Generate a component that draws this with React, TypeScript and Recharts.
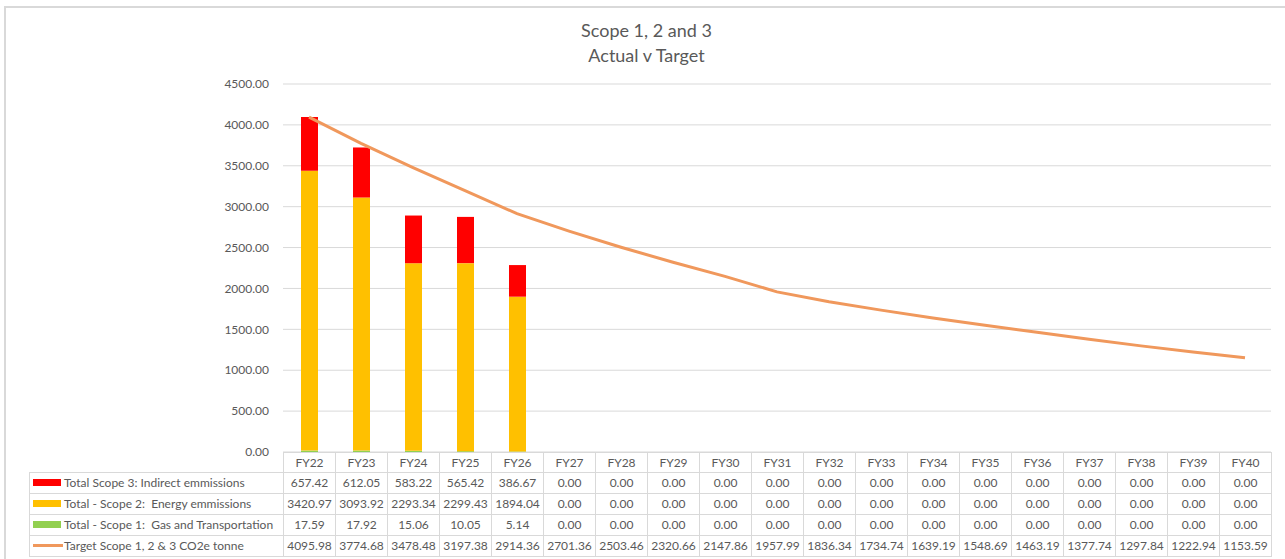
import React from "react";
import { ComposedChart, Bar, Line, XAxis, YAxis, CartesianGrid } from "recharts";

const categories = ["FY22","FY23","FY24","FY25","FY26","FY27","FY28","FY29","FY30","FY31","FY32","FY33","FY34","FY35","FY36","FY37","FY38","FY39","FY40"];
const scope3 = [657.42,612.05,583.22,565.42,386.67,0,0,0,0,0,0,0,0,0,0,0,0,0,0];
const scope2 = [3420.97,3093.92,2293.34,2299.43,1894.04,0,0,0,0,0,0,0,0,0,0,0,0,0,0];
const scope1 = [17.59,17.92,15.06,10.05,5.14,0,0,0,0,0,0,0,0,0,0,0,0,0,0];
const target = [4095.98,3774.68,3478.48,3197.38,2914.36,2701.36,2503.46,2320.66,2147.86,1957.99,1836.34,1734.74,1639.19,1548.69,1463.19,1377.74,1297.84,1222.94,1153.59];
const yTicks = [0,500,1000,1500,2000,2500,3000,3500,4000,4500];

const seriesRows = [
  { name: "Total Scope 3: Indirect emmissions", values: scope3, color: "#FF0000", kind: "bar" },
  { name: "Total - Scope 2:  Energy emmissions", values: scope2, color: "#FFC000", kind: "bar" },
  { name: "Total - Scope 1:  Gas and Transportation", values: scope1, color: "#92D050", kind: "bar" },
  { name: "Target Scope 1, 2 & 3 CO2e tonne", values: target, color: "#F0985C", kind: "line" },
];

const data = categories.map((c, i) => ({
  cat: c,
  s1: scope1[i],
  s2: scope2[i],
  s3: scope3[i],
  target: target[i],
}));

const FONT = "Lato, 'Open Sans', sans-serif";
const TEXT = "#595959";
const BORDER = "#D9D9D9";

export default function App() {
  const cellStyle: React.CSSProperties = {
    border: `1px solid ${BORDER}`,
    padding: 0,
    textAlign: "center",
    fontSize: 12,
    lineHeight: "14px",
    color: TEXT,
    whiteSpace: "pre",
    overflow: "hidden",
    boxSizing: "border-box",
  };
  return (
    <div style={{ position: "absolute", left: 0, top: 0, width: 1285, height: 559, background: "#fff", fontFamily: FONT, overflow: "hidden" }}>
      <div style={{ position: "absolute", left: 4, top: 6, width: 1285, height: 560, borderTop: `2px solid ${BORDER}`, borderLeft: `2px solid ${BORDER}`, boxSizing: "border-box" }} />
      <div style={{ position: "absolute", left: 0, top: 18, width: 1293, textAlign: "center", fontSize: 18, lineHeight: "25px", color: TEXT }}>
        <div>Scope 1, 2 and 3</div>
        <div>Actual v Target</div>
      </div>
      <div style={{ position: "absolute", left: 0, top: 0 }}>
        <ComposedChart
          width={1285}
          height={559}
          data={data}
          margin={{ top: 84, right: 14, bottom: 107, left: 213 }}
          barSize={17}
        >
          <CartesianGrid vertical={false} stroke={BORDER} />
          <XAxis dataKey="cat" hide />
          <YAxis
            width={70}
            domain={[0, 4500]}
            ticks={yTicks}
            tickFormatter={(v: number) => v.toFixed(2)}
            axisLine={false}
            tickLine={false}
            tickMargin={8}
            tick={{ fill: TEXT, fontSize: 12, fontFamily: FONT }}
            interval={0}
          />
          <Bar dataKey="s1" stackId="a" fill="#92D050" isAnimationActive={false} />
          <Bar dataKey="s2" stackId="a" fill="#FFC000" isAnimationActive={false} />
          <Bar dataKey="s3" stackId="a" fill="#FF0000" isAnimationActive={false} />
          <Line dataKey="target" type="linear" stroke="#F0985C" strokeWidth={3} dot={false} isAnimationActive={false} />
        </ComposedChart>
      </div>
      <table
        style={{
          position: "absolute",
          left: 29,
          top: 452,
          borderCollapse: "collapse",
          tableLayout: "fixed",
          width: 254 + 52 * categories.length,
          fontFamily: FONT,
        }}
      >
        <colgroup>
          <col style={{ width: 254 }} />
          {categories.map((c) => (
            <col key={c} style={{ width: 52 }} />
          ))}
        </colgroup>
        <tbody>
          <tr style={{ height: 20 }}>
            <td style={{ ...cellStyle, border: "none", borderRight: `1px solid ${BORDER}`, borderBottom: `1px solid ${BORDER}` }} />
            {categories.map((c) => (
              <td key={c} style={cellStyle}>{c}</td>
            ))}
          </tr>
          {seriesRows.map((r) => (
            <tr key={r.name} style={{ height: 21 }}>
              <td style={{ ...cellStyle, textAlign: "left", paddingLeft: 3 }}>
                <span
                  style={{
                    display: "inline-block",
                    width: r.kind === "bar" ? 28 : 30,
                    height: r.kind === "bar" ? 7 : 3,
                    background: r.color,
                    verticalAlign: "middle",
                    marginRight: r.kind === "bar" ? 3 : 1,
                    position: "relative",
                    top: -1,
                  }}
                />
                {r.name}
              </td>
              {r.values.map((v, i) => (
                <td key={i} style={cellStyle}>{v.toFixed(2)}</td>
              ))}
            </tr>
          ))}
        </tbody>
      </table>
    </div>
  );
}
